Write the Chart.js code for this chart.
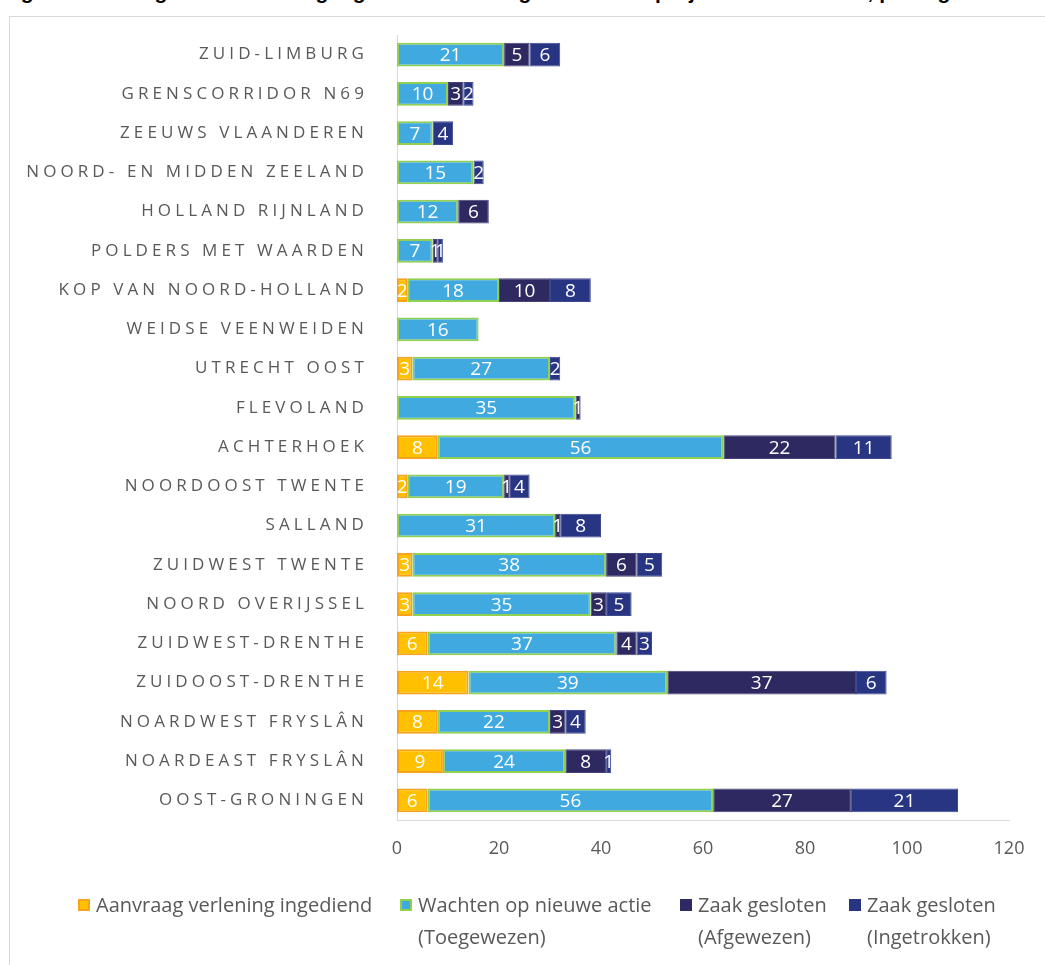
<!DOCTYPE html>
<html>
<head>
<meta charset="utf-8">
<script src="https://cdn.jsdelivr.net/npm/chart.js@4.4.1/dist/chart.umd.min.js"></script>
<style>
  html, body { margin: 0; padding: 0; width: 1045px; height: 965px; overflow: hidden; background: #fff; }
  #title { position: absolute; left: 2px; top: -20px; font: bold 21px "Liberation Sans", Arial, sans-serif; color: #000; white-space: nowrap; }
  #frame { position: absolute; left: 9px; top: 16px; width: 1100px; height: 1100px; border: 1px solid #d9d9d9; }
  #wrap { position: absolute; left: 0; top: 0; width: 1045px; height: 965px; }
  .lg { position: absolute; font: 20px "Open Sans", sans-serif; color: #595959; line-height: 32px; white-space: nowrap; }
  .lg i { position: absolute; left: -18px; top: 10px; width: 10px; height: 10px; border: 1px solid; }
</style>
</head>
<body>
<div id="title">Figuur 6.: Weergave beoordeling ingediende aanvragen LEADER-projecten naar status, per regio</div>
<div id="frame"></div>
<div id="wrap"><canvas id="chart"></canvas></div>
<script>
// regions, top to bottom
const regions = [
  'ZUID-LIMBURG', 'GRENSCORRIDOR N69', 'ZEEUWS VLAANDEREN', 'NOORD- EN MIDDEN ZEELAND',
  'HOLLAND RIJNLAND', 'POLDERS MET WAARDEN', 'KOP VAN NOORD-HOLLAND', 'WEIDSE VEENWEIDEN',
  'UTRECHT OOST', 'FLEVOLAND', 'ACHTERHOEK', 'NOORDOOST TWENTE', 'SALLAND',
  'ZUIDWEST TWENTE', 'NOORD OVERIJSSEL', 'ZUIDWEST-DRENTHE', 'ZUIDOOST-DRENTHE',
  'NOARDWEST FRYSLÂN', 'NOARDEAST FRYSLÂN', 'OOST-GRONINGEN'
];

const aanvraag    = [0, 0, 0, 0, 0, 0, 2, 0, 3, 0, 8, 2, 0, 3, 3, 6, 14, 8, 9, 6];
const wachten     = [21, 10, 7, 15, 12, 7, 18, 16, 27, 35, 56, 19, 31, 38, 35, 37, 39, 22, 24, 56];
const afgewezen   = [5, 3, 0, 0, 6, 1, 10, 0, 0, 1, 22, 1, 1, 6, 3, 4, 37, 3, 8, 27];
const ingetrokken = [6, 2, 4, 2, 0, 1, 8, 0, 2, 0, 11, 4, 8, 5, 5, 3, 6, 4, 1, 21];

const seriesNames = [
  ['Aanvraag verlening ingediend'],
  ['Wachten op nieuwe actie', '(Toegewezen)'],
  ['Zaak gesloten', '(Afgewezen)'],
  ['Zaak gesloten', '(Ingetrokken)']
];
const xTicks = [0, 20, 40, 60, 80, 100, 120];

const fills   = ['#ffc000', '#3fa9e0', '#2e2960', '#283583'];
const borders = ['#f7a21b', '#92d050', '#45437a', '#3d4a92'];
const widths  = [2, 2, 1, 1];

const seriesData = [aanvraag, wachten, afgewezen, ingetrokken];

// spaced capitals on the region axis, plain text everywhere else
const spacing = {
  id: 'spacing',
  beforeDraw(chart) { chart.ctx.letterSpacing = '4.1px'; },
  beforeDatasetsDraw(chart) { chart.ctx.letterSpacing = '0px'; }
};

// white value labels centred in every segment
const values = {
  id: 'values',
  afterDatasetsDraw(chart) {
    const ctx = chart.ctx;
    ctx.save();
    ctx.font = '19px "Open Sans"';
    ctx.fillStyle = '#fff';
    ctx.textAlign = 'center';
    ctx.textBaseline = 'middle';
    chart.data.datasets.forEach((ds, i) => {
      chart.getDatasetMeta(i).data.forEach((bar, j) => {
        const v = ds.data[j];
        if (!v) return;
        const p = bar.getProps(['x', 'y', 'base'], true);
        ctx.fillText(v, (p.x + p.base) / 2, p.y + 1);
      });
    });
    ctx.restore();
  }
};

new Chart(document.getElementById('chart'), {
  type: 'bar',
  data: {
    labels: regions,
    datasets: seriesData.map((d, i) => ({
      label: seriesNames[i].join(' '),
      data: d,
      backgroundColor: fills[i],
      borderColor: borders[i],
      borderWidth: widths[i],
      borderSkipped: false,
      categoryPercentage: 1,
      barPercentage: 0.61
    }))
  },
  options: {
    indexAxis: 'y',
    responsive: true,
    maintainAspectRatio: false,
    animation: false,
    layout: { padding: { left: 0, top: 35, right: 36, bottom: 0 } },
    scales: {
      x: {
        stacked: true,
        min: 0,
        max: 120,
        afterBuildTicks: s => { s.ticks = xTicks.map(v => ({ value: v })); },
        afterFit: s => { s.height = 145; },
        grid: { display: false },
        border: { display: true, color: '#d9d9d9', width: 1 },
        ticks: { z: 1, padding: 10, color: '#595959', font: { family: 'Open Sans', size: 18 } }
      },
      y: {
        stacked: true,
        afterFit: s => { s.width = 397; },
        grid: { display: false },
        border: { display: true, color: '#d9d9d9', width: 1 },
        ticks: { autoSkip: false, padding: 21, color: '#595959', font: { family: 'Open Sans', size: 17 } }
      }
    },
    plugins: {
      legend: { display: false },
      tooltip: { enabled: false }
    }
  },
  plugins: [spacing, values]
});

// legend below the plot
const legendLeft = [96, 418, 698, 867];
seriesNames.forEach((lines, i) => {
  const el = document.createElement('div');
  el.className = 'lg';
  el.style.left = legendLeft[i] + 'px';
  el.style.top = '889px';
  const sq = document.createElement('i');
  sq.style.background = fills[i];
  sq.style.borderColor = i < 2 ? borders[i] : fills[i];
  if (i < 2) { sq.style.borderWidth = '2px'; sq.style.width = '8px'; sq.style.height = '8px'; }
  el.appendChild(sq);
  lines.forEach((t, k) => {
    if (k) el.appendChild(document.createElement('br'));
    el.appendChild(document.createTextNode(t));
  });
  document.body.appendChild(el);
});
</script>
</body>
</html>
